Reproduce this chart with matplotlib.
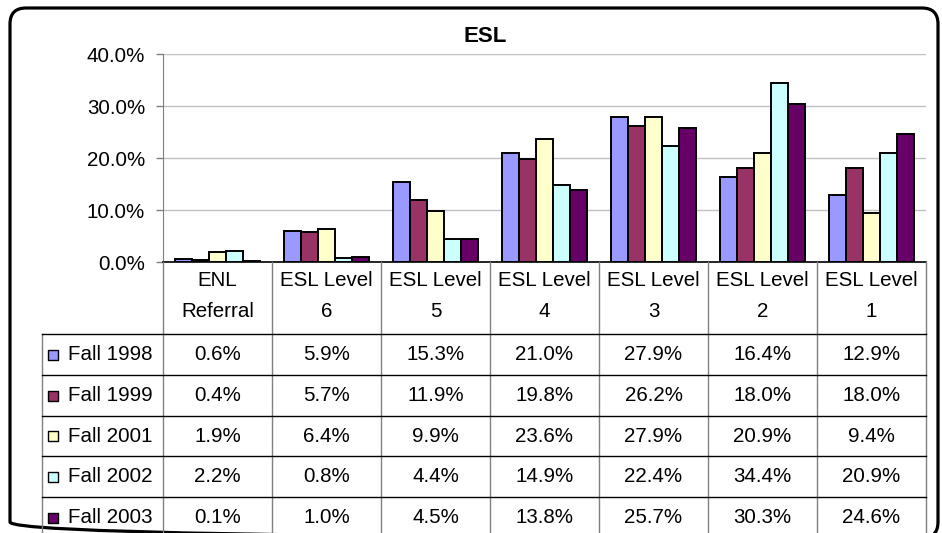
import matplotlib
matplotlib.use("Agg")
import matplotlib.pyplot as plt
from matplotlib.patches import FancyBboxPatch
from matplotlib.ticker import FuncFormatter

plt.rcParams['font.family'] = ['Liberation Sans', 'DejaVu Sans']

# data
categories = ["ENL\nReferral", "ESL Level\n6", "ESL Level\n5", "ESL Level\n4",
              "ESL Level\n3", "ESL Level\n2", "ESL Level\n1"]
series_names = ["Fall 1998", "Fall 1999", "Fall 2001", "Fall 2002", "Fall 2003"]
fall_1998 = [0.6, 5.9, 15.3, 21.0, 27.9, 16.4, 12.9]
fall_1999 = [0.4, 5.7, 11.9, 19.8, 26.2, 18.0, 18.0]
fall_2001 = [1.9, 6.4, 9.9, 23.6, 27.9, 20.9, 9.4]
fall_2002 = [2.2, 0.8, 4.4, 14.9, 22.4, 34.4, 20.9]
fall_2003 = [0.1, 1.0, 4.5, 13.8, 25.7, 30.3, 24.6]
series = [fall_1998, fall_1999, fall_2001, fall_2002, fall_2003]
colors = ["#9999FF", "#993366", "#FFFFCC", "#CCFFFF", "#660066"]

W, H = 942, 533
FS = 14.8
fig = plt.figure(figsize=(W / 100, H / 100), dpi=100)

def px_rect(left, top, right, bottom):
    return [left / W, (H - bottom) / H, (right - left) / W, (bottom - top) / H]

# background frame
bg = fig.add_axes([0, 0, 1, 1])
bg.set_xlim(0, W)
bg.set_ylim(H, 0)
bg.axis("off")
bg.add_patch(FancyBboxPatch((10, 8), 928, 530, boxstyle="round,pad=0,rounding_size=16",
                            fill=False, edgecolor="black", linewidth=2.3, clip_on=False))
bg.text(485, 37, "ESL", ha="center", va="center", fontsize=16, fontweight="bold")

# bar chart
ax = fig.add_axes(px_rect(163, 54, 926, 262))
n = len(series)
bw = 0.155
x = list(range(len(categories)))
for i, (vals, c) in enumerate(zip(series, colors)):
    pos = [xi + (i - (n - 1) / 2) * bw for xi in x]
    ax.bar(pos, vals, width=bw, color=c, edgecolor="black", linewidth=1.4, zorder=3)
ax.set_xlim(-0.5, len(categories) - 0.5)
ax.set_ylim(0, 40)
ax.set_yticks([0, 10, 20, 30, 40])
ax.yaxis.set_major_formatter(FuncFormatter(lambda v, p: f"{v:.1f}%"))
ax.tick_params(axis="y", labelsize=FS, length=5, width=1, color="#808080", pad=8)
ax.set_xticks([])
ax.grid(axis="y", color="#c0c0c0", linewidth=1, zorder=0)
ax.set_axisbelow(True)
for s in ["top", "right"]:
    ax.spines[s].set_visible(False)
ax.spines["left"].set_color("#808080")
ax.spines["bottom"].set_color("black")
ax.spines["bottom"].set_linewidth(1.2)
ax.patch.set_alpha(0)

# data table
tab_left = -0.5 - (163 - 42) / 109
tb = fig.add_axes(px_rect(42, 262, 926, 538))
tb.set_xlim(tab_left, len(categories) - 0.5)
tb.set_ylim(538, 262)
tb.axis("off")
rows = [334, 375, 416, 456, 497, 538]
for k in range(len(categories) + 1):
    tb.plot([k - 0.5, k - 0.5], [262, 538], color="#808080", lw=1, clip_on=False)
tb.plot([tab_left, tab_left], [334, 538], color="#808080", lw=1, clip_on=False)
for y in rows[:-1]:
    tb.plot([tab_left, len(categories) - 0.5], [y, y], color="black", lw=1, clip_on=False)

for j, cat in enumerate(categories):
    tb.text(j, 296, cat, ha="center", va="center", fontsize=FS, linespacing=1.85)

key_x = tab_left + (53 - 42) / 109
name_x = tab_left + (68 - 42) / 109
for i, (name, vals, c) in enumerate(zip(series_names, series, colors)):
    yc = (rows[i] + rows[i + 1]) / 2
    tb.scatter([key_x], [yc], marker="s", s=62, color=c, edgecolor="black",
               linewidth=1, clip_on=False, zorder=3)
    tb.text(name_x, yc, name, ha="left", va="center", fontsize=FS)
    for j, v in enumerate(vals):
        tb.text(j, yc, f"{v:.1f}%", ha="center", va="center", fontsize=FS)

fig.savefig("out.png", dpi=100)
